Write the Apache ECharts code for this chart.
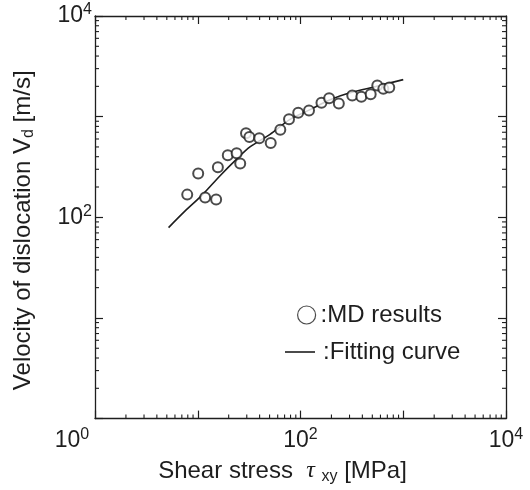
<!DOCTYPE html>
<html>
<head>
<meta charset="utf-8">
<script src="https://cdn.jsdelivr.net/npm/echarts@6/dist/echarts.min.js"></script>
<style>
  html, body { margin: 0; padding: 0; background: #fff; }
  #chart { width: 530px; height: 490px; }
</style>
</head>
<body>
<div id="chart"></div>
<script>
// MD results (shear stress MPa, velocity m/s)
const mdStress = [7.9, 10.1, 11.8, 15.1, 15.7, 19.6, 23.9, 25.9, 29.5, 31.8, 39.7, 51.3, 63.6, 77.3,
    95, 121, 160, 190, 236, 319, 391, 482, 559, 640, 731];
const mdVelocity = [168, 273, 157, 150, 315, 414, 434, 343, 684, 628, 610, 548, 743, 940,
    1095, 1153, 1373, 1521, 1352, 1622, 1574, 1671, 2036, 1888, 1944];

// fitting curve
const fitStress = [5.2, 7.5, 10.9, 16.5, 23.9, 32.2, 50.5, 79, 124, 194, 303, 552, 1000];
const fitVelocity = [79, 115, 164, 259, 378, 500, 668, 940, 1175, 1472, 1725, 2004, 2333];

const INK = '#1e1e1e';
const FONT = '"Liberation Sans", Arial, sans-serif';

// minor ticks 2..9 in every decade, on all four sides of the frame, pointing inward
const TL = 4;
const minorTicks = [];
for (let k = 0; k < 4; k++) {
    for (let m = 2; m < 10; m++) {
        const v = m * Math.pow(10, k);
        minorTicks.push(
            { value: [v, 1], symbolSize: [1.1, TL], symbolOffset: [0, -TL / 2] },
            { value: [v, 10000], symbolSize: [1.1, TL], symbolOffset: [0, TL / 2] },
            { value: [1, v], symbolSize: [TL, 1.1], symbolOffset: [TL / 2, 0] },
            { value: [10000, v], symbolSize: [TL, 1.1], symbolOffset: [-TL / 2, 0] }
        );
    }
}

const powRich = {
    b: { fontSize: 23, lineHeight: 28, color: INK, fontFamily: FONT },
    s: { fontSize: 16, lineHeight: 21, verticalAlign: 'top', color: INK, fontFamily: FONT },
    b0: { fontSize: 23, lineHeight: 28, color: INK, fontFamily: FONT },
    s0: { fontSize: 16, lineHeight: 21, verticalAlign: 'top', color: INK, fontFamily: FONT, padding: [0, 46, 0, 0] }
};

function expLabel(value, isX) {
    const e = Math.round(Math.log10(value));
    if (e % 2 !== 0) return '';
    if (e === 0) return isX ? `{b0|10}{s0|0}` : '';
    return `{b|10}{s|${e}}`;
}

const baseAxis = {
    type: 'log',
    logBase: 10,
    min: 1,
    max: 10000,
    axisLine: { show: true, lineStyle: { color: INK, width: 1.3 } },
    axisTick: { show: true, inside: true, length: 8, lineStyle: { color: INK, width: 1.2 } },
    splitLine: { show: false },
    minorTick: { show: false }
};

var myChart = echarts.init(document.getElementById('chart'), null, { renderer: 'canvas' });

var option = {
    backgroundColor: '#fff',
    animation: false,
    textStyle: { fontFamily: FONT, color: INK },
    grid: { left: 95, right: 24, top: 16, bottom: 69 },
    legend: [
        {
            data: [{
                name: 'MD results',
                icon: 'circle',
                itemStyle: { color: 'transparent', borderColor: INK, borderWidth: 1.2 }
            }],
            left: 297,
            top: 303,
            padding: 0,
            itemWidth: 18,
            itemHeight: 18,
            formatter: name => ':' + name,
            textStyle: { fontSize: 24, color: INK, fontFamily: FONT }
        },
        {
            data: [{ name: 'Fitting curve', icon: 'rect', itemStyle: { color: INK } }],
            left: 285,
            top: 340,
            padding: 0,
            itemWidth: 30,
            itemHeight: 1.6,
            formatter: name => ':' + name,
            textStyle: { fontSize: 24, color: INK, fontFamily: FONT, padding: [0, 0, 0, 3] }
        }
    ],
    xAxis: [
        Object.assign({}, baseAxis, {
            position: 'bottom',
            name: 'Shear stress  {tau|τ} {sub|xy} [MPa]',
            nameLocation: 'middle',
            nameGap: 35,
            nameTextStyle: {
                fontSize: 24, color: INK, fontFamily: FONT, lineHeight: 28,
                padding: [0, 36, 0, 0],
                rich: {
                    tau: { fontSize: 24, lineHeight: 28, fontFamily: '"Liberation Serif", serif', fontStyle: 'italic', color: INK },
                    sub: { fontSize: 16, lineHeight: 16, verticalAlign: 'bottom', color: INK, fontFamily: FONT }
                }
            },
            axisLabel: {
                show: true,
                margin: 8,
                showMinLabel: true,
                showMaxLabel: true,
                formatter: v => expLabel(v, true),
                rich: powRich
            }
        }),
        Object.assign({}, baseAxis, {
            position: 'top',
            axisLabel: { show: false }
        })
    ],
    yAxis: [
        Object.assign({}, baseAxis, {
            position: 'left',
            name: 'Velocity of dislocation V{sub|d} [m/s]',
            nameLocation: 'middle',
            nameGap: 58,
            nameTextStyle: {
                fontSize: 24, color: INK, fontFamily: FONT, lineHeight: 28,
                padding: [0, 26, 0, 0],
                rich: {
                    sub: { fontSize: 16, lineHeight: 16, verticalAlign: 'bottom', color: INK, fontFamily: FONT }
                }
            },
            axisLabel: {
                show: true,
                margin: 3,
                showMinLabel: true,
                showMaxLabel: true,
                formatter: v => expLabel(v, false),
                rich: powRich
            }
        }),
        Object.assign({}, baseAxis, {
            position: 'right',
            axisLabel: { show: false }
        })
    ],
    series: [
        {
            name: 'MD results',
            type: 'scatter',
            data: mdStress.map((x, i) => [x, mdVelocity[i]]),
            symbol: 'emptyCircle',
            symbolSize: 10,
            itemStyle: { color: INK, borderWidth: 1.3 },
            z: 3
        },
        {
            name: 'Fitting curve',
            type: 'line',
            data: fitStress.map((x, i) => [x, fitVelocity[i]]),
            symbol: 'none',
            smooth: 0.3,
            lineStyle: { color: INK, width: 1.6 },
            itemStyle: { color: INK },
            z: 2
        },
        {
            // minor ticks drawn as thin rects on the frame
            name: 'minor ticks',
            type: 'scatter',
            silent: true,
            clip: false,
            symbol: 'rect',
            itemStyle: { color: INK, opacity: 1 },
            emphasis: { disabled: true },
            data: minorTicks,
            z: 4
        }
    ]
};
myChart.setOption(option);
</script>
</body>
</html>
